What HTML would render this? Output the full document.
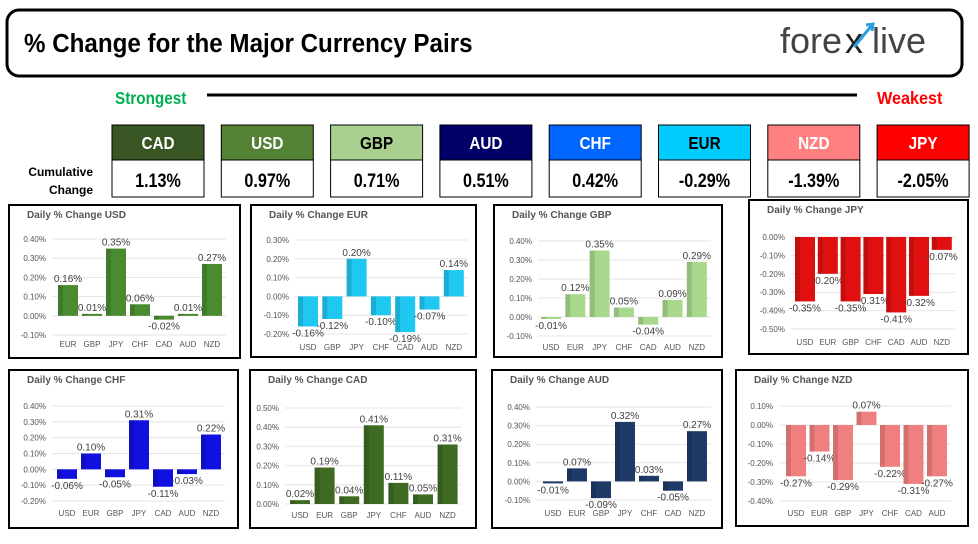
<!DOCTYPE html><html><head><meta charset="utf-8"><style>
body{margin:0;background:#fff;}
svg text{font-family:"Liberation Sans",sans-serif;}
.n{font-family:"Liberation Sans Narrow","Liberation Sans",sans-serif;font-weight:bold;}
</style></head><body>
<svg id="s" width="978" height="539" xmlns="http://www.w3.org/2000/svg">
<rect x="7" y="10" width="955" height="66" rx="12" fill="#fff" stroke="#000" stroke-width="3"/>
<text x="24" y="52" class="n" font-size="26" fill="#000" transform="translate(24,52) scale(0.93,1) translate(-24,-52)">% Change for the Major Currency Pairs</text>
<text x="780" y="53" font-size="36" fill="#444">fore</text>
<text x="845" y="53" font-size="36" fill="#222">x</text>
<text x="872" y="53" font-size="36" fill="#444">live</text>
<path d="M854 47 L872 25 M866 25 L873 24 L872 31" stroke="#2aa0dd" stroke-width="3" fill="none"/>
<text x="115" y="104" class="n" font-size="18" fill="#00b050" transform="translate(115,104) scale(0.85,1) translate(-115,-104)">Strongest</text>
<line x1="207" y1="95" x2="857" y2="95" stroke="#000" stroke-width="3"/>
<text x="877" y="104" class="n" font-size="18" fill="#ff0000" transform="translate(877,104) scale(0.9,1) translate(-877,-104)">Weakest</text>
<text x="93" y="176" class="n" font-size="12" text-anchor="end">Cumulative</text>
<text x="93" y="194" class="n" font-size="12" text-anchor="end">Change</text>
<g id="topg"></g><g id="charts"></g>
</svg>
<script>
(function(){
const NS="http://www.w3.org/2000/svg";
function el(p,t,a,txt){const e=document.createElementNS(NS,t);for(const k in a)e.setAttribute(k,a[k]);if(txt!==undefined)e.textContent=txt;p.appendChild(e);return e;}
const tg=document.getElementById('topg');
const T=[["CAD","#375623","#fff","1.13%"],["USD","#548235","#fff","0.97%"],["GBP","#a9d08e","#000","0.71%"],["AUD","#000066","#fff","0.51%"],["CHF","#0066ff","#fff","0.42%"],["EUR","#00ccff","#000","-0.29%"],["NZD","#ff8080","#fff","-1.39%"],["JPY","#ff0000","#fff","-2.05%"]];
T.forEach((t,i)=>{const x=112+i*109.3,cx=x+46;
el(tg,'rect',{x:x,y:125,width:92,height:35,fill:t[1],stroke:"#000","stroke-width":1});
el(tg,'rect',{x:x,y:160,width:92,height:37,fill:"#fff",stroke:"#000","stroke-width":1});
el(tg,'text',{x:cx,y:149,"text-anchor":"middle","font-size":18,fill:t[2],class:"n",transform:`translate(${cx},0) scale(0.85,1) translate(${-cx},0)`},t[0]);
el(tg,'text',{x:cx,y:187,"text-anchor":"middle","font-size":19,fill:"#000",class:"n",transform:`translate(${cx},0) scale(0.85,1) translate(${-cx},0)`},t[3]);});
const C=[
{t:"USD",b:[9,205,231,153],col:"#4a8a30",ticks:[0.4,0.3,0.2,0.1,0,-0.1],y0t:239,yLast:335,x0:68,dx:24,lab:"EUR GBP JPY CHF CAD AUD NZD",v:[.16,.01,.35,.06,-.02,.01,.27],ax:46,ly:347},
{t:"EUR",b:[251,205,225,152],col:"#1ec8f0",ticks:[0.3,0.2,0.1,0,-0.1,-0.2],y0t:240,yLast:334,x0:308,dx:24.3,lab:"USD GBP JPY CHF CAD AUD NZD",v:[-.16,-.12,.20,-.10,-.19,-.07,.14],ax:289,ly:350},
{t:"GBP",b:[494,205,228,152],col:"#a8d88c",ticks:[0.4,0.3,0.2,0.1,0,-0.1],y0t:241,yLast:336,x0:551,dx:24.3,lab:"USD EUR JPY CHF CAD AUD NZD",v:[-.01,.12,.35,.05,-.04,.09,.29],ax:532,ly:350},
{t:"JPY",b:[749,200,219,154],col:"#e01010",ticks:[0,-0.1,-0.2,-0.3,-0.4,-0.5],y0t:237,yLast:329,x0:805,dx:22.8,lab:"USD EUR GBP CHF CAD AUD NZD",v:[-.35,-.20,-.35,-.31,-.41,-.32,-.07],ax:785,ly:345},
{t:"CHF",b:[9,370,229,158],col:"#1010e0",ticks:[0.4,0.3,0.2,0.1,0,-0.1,-0.2],y0t:406,yLast:501,x0:67,dx:24,lab:"USD EUR GBP JPY CAD AUD NZD",v:[-.06,.10,-.05,.31,-.11,-.03,.22],ax:46,ly:516},
{t:"CAD",b:[250,370,226,158],col:"#3e6a22",ticks:[0.5,0.4,0.3,0.2,0.1,0],y0t:408,yLast:504,x0:300,dx:24.6,lab:"USD EUR GBP JPY CHF AUD NZD",v:[.02,.19,.04,.41,.11,.05,.31],ax:279,ly:518},
{t:"AUD",b:[492,370,230,158],col:"#1e3a66",ticks:[0.4,0.3,0.2,0.1,0,-0.1],y0t:407,yLast:500,x0:553,dx:24,lab:"USD EUR GBP JPY CHF CAD NZD",v:[-.01,.07,-.09,.32,.03,-.05,.27],ax:530,ly:516},
{t:"NZD",b:[736,370,232,156],col:"#f08080",ticks:[0.1,0,-0.1,-0.2,-0.3,-0.4],y0t:406,yLast:501,x0:796,dx:23.5,lab:"USD EUR GBP JPY CHF CAD AUD",v:[-.27,-.14,-.29,.07,-.22,-.31,-.27],ax:773,ly:516}];
const g=document.getElementById('charts');
C.forEach(c=>{const [bx,by,bw,bh]=c.b;
el(g,'rect',{x:bx,y:by,width:bw,height:bh,fill:"#fff",stroke:"#000","stroke-width":2});
el(g,'text',{x:bx+18,y:by+13,"font-size":10,fill:"#555","font-weight":"bold"},"Daily % Change "+c.t);
const n=c.ticks.length,pp=(c.yLast-c.y0t)/((c.ticks[0]-c.ticks[n-1])*10);
const Y=v=>c.y0t+(c.ticks[0]-v)*10*pp;
c.ticks.forEach(t=>{const y=Y(t);
el(g,'line',{x1:c.ax+6,x2:c.x0+6*c.dx+14,y1:y,y2:y,stroke:"#e4e4e4","stroke-width":1});
el(g,'text',{x:c.ax,y:y+3,"font-size":8,fill:"#555","text-anchor":"end"},t.toFixed(2)+"%");});
const labs=c.lab.split(" "),z=Y(0);
c.v.forEach((v,i)=>{const x=c.x0+i*c.dx,y=Y(v);
el(g,'rect',{x:x-10,y:Math.min(y,z),width:20,height:Math.max(Math.abs(y-z),2),fill:c.col});
el(g,'rect',{x:x-10,y:Math.min(y,z),width:5,height:Math.max(Math.abs(y-z),2),fill:"#000",opacity:0.12});
el(g,'text',{x:x,y:c.ly,"font-size":8,fill:"#555","text-anchor":"middle"},labs[i]);
const ty=v>=0?Math.min(y,z)-3:Math.max(y,z)+10;
el(g,'text',{x:x,y:ty,"font-size":10,fill:"#404040","text-anchor":"middle"},v.toFixed(2)+"%");});});
})();
</script>
</body></html>
